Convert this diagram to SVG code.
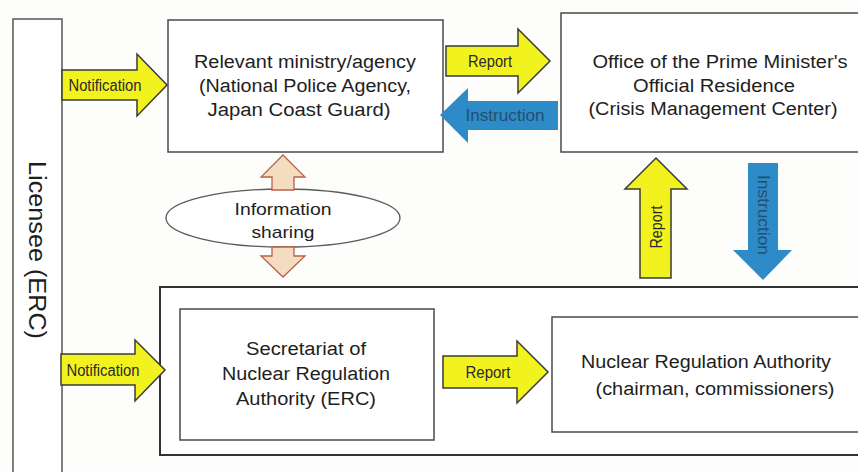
<svg xmlns="http://www.w3.org/2000/svg" width="858" height="472" viewBox="0 0 858 472">
  <defs>
    <style>
      .box { fill: #ffffff; stroke: #4a4a4a; stroke-width: 1.5; }
      .outer { fill: #ffffff; stroke: #333333; stroke-width: 2; }
      .txt { font-family: "Liberation Sans", Arial, sans-serif; font-size: 18px; fill: #1e1e1e; text-anchor: middle; }
      .lbl { font-family: "Liberation Sans", Arial, sans-serif; font-size: 16px; fill: #2a2a2a; text-anchor: middle; }
      .lbl-blue { font-family: "Liberation Sans", Arial, sans-serif; font-size: 16px; fill: #23506e; text-anchor: middle; }
      .yellow { fill: #f2f21e; stroke: #3a3a3a; stroke-width: 1.5; stroke-linejoin: miter; }
      .blue { fill: #2d8bc7; stroke: none; }
      .share { fill: #f3dcc0; stroke: #b9624a; stroke-width: 1.3; }
    </style>
  </defs>

  <rect width="858" height="472" fill="#fdfdfb"/>

  <!-- Licensee column -->
  <g id="licensee">
    <path d="M13,474 V19 H62 V474" fill="#ffffff" stroke="#555555" stroke-width="1.5"/>
    <text class="txt" transform="translate(37,250) rotate(90)" style="font-size:23px" dominant-baseline="central" textLength="178" lengthAdjust="spacingAndGlyphs">Licensee (ERC)</text>
  </g>

  <!-- Relevant ministry / agency -->
  <g id="ministry">
    <rect class="box" x="168" y="20" width="275" height="132"/>
    <text class="txt" x="305" y="68" textLength="222" lengthAdjust="spacingAndGlyphs">Relevant ministry/agency</text>
    <text class="txt" x="305" y="92" textLength="212" lengthAdjust="spacingAndGlyphs">(National Police Agency,</text>
    <text class="txt" x="299" y="116" textLength="183" lengthAdjust="spacingAndGlyphs">Japan Coast Guard)</text>
  </g>

  <!-- Prime Minister's Official Residence -->
  <g id="residence">
    <rect class="box" x="561" y="13" width="310" height="139"/>
    <text class="txt" x="720" y="68" textLength="255" lengthAdjust="spacingAndGlyphs">Office of the Prime Minister's</text>
    <text class="txt" x="714" y="92" textLength="162" lengthAdjust="spacingAndGlyphs">Official Residence</text>
    <text class="txt" x="713" y="115" textLength="249" lengthAdjust="spacingAndGlyphs">(Crisis Management  Center)</text>
  </g>

  <!-- Nuclear Regulation Authority frame -->
  <g id="nra-frame">
    <rect class="outer" x="160" y="287" width="710" height="168"/>
  </g>

  <!-- Secretariat of NRA -->
  <g id="secretariat">
    <rect class="box" x="180" y="309" width="254" height="131"/>
    <text class="txt" x="306" y="355" textLength="120" lengthAdjust="spacingAndGlyphs">Secretariat of</text>
    <text class="txt" x="306" y="380" textLength="168" lengthAdjust="spacingAndGlyphs">Nuclear Regulation</text>
    <text class="txt" x="306" y="405" textLength="140" lengthAdjust="spacingAndGlyphs">Authority (ERC)</text>
  </g>

  <!-- Nuclear Regulation Authority -->
  <g id="nra">
    <rect class="box" x="552" y="317" width="315" height="115"/>
    <text class="txt" x="706" y="368" textLength="250" lengthAdjust="spacingAndGlyphs">Nuclear Regulation Authority</text>
    <text class="txt" x="715" y="395" textLength="239" lengthAdjust="spacingAndGlyphs">(chairman, commissioners)</text>
  </g>

  <!-- Information sharing -->
  <g id="info-sharing">
    <ellipse cx="283" cy="218" rx="117" ry="29" fill="#ffffff" stroke="#5a5a5a" stroke-width="1.3"/>
    <text class="txt" x="283" y="215" style="font-size:17px" textLength="97" lengthAdjust="spacingAndGlyphs">Information</text>
    <text class="txt" x="283" y="238" style="font-size:17px" textLength="63" lengthAdjust="spacingAndGlyphs">sharing</text>
  </g>

  <!-- Connectors -->
  <g id="connectors">
    <!-- information sharing double arrow -->
    <path class="share" d="M283,155 L305,177 H294 V190 H272 V177 H261 Z"/>
    <path class="share" d="M272,247 H294 V256 H305 L283,277 L261,256 H272 Z"/>

    <!-- Notification: licensee to ministry -->
    <path class="yellow" d="M62,70 H137 V54 L167,85 L137,116 V100 H62 Z"/>
    <text class="lbl" x="105" y="91" textLength="73" lengthAdjust="spacingAndGlyphs">Notification</text>

    <!-- Report: ministry to residence -->
    <path class="yellow" d="M446,46 H518 V29 L550,61 L518,93 V76 H446 Z"/>
    <text class="lbl" x="490" y="67" textLength="44" lengthAdjust="spacingAndGlyphs">Report</text>

    <!-- Instruction: residence to ministry -->
    <path class="blue" d="M558,101 H468 V88 L440,115 L468,143 V130 H558 Z"/>
    <text class="lbl-blue" x="505" y="121" textLength="79" lengthAdjust="spacingAndGlyphs">Instruction</text>

    <!-- Notification: licensee to secretariat -->
    <path class="yellow" d="M61,354 H135 V340 L165,370 L135,401 V385 H61 Z"/>
    <text class="lbl" x="103" y="376" textLength="73" lengthAdjust="spacingAndGlyphs">Notification</text>

    <!-- Report: secretariat to NRA -->
    <path class="yellow" d="M443,356 H517 V341 L548,372 L517,403 V388 H443 Z"/>
    <text class="lbl" x="488" y="378" textLength="45" lengthAdjust="spacingAndGlyphs">Report</text>

    <!-- Report: NRA to residence -->
    <path class="yellow" d="M640,278 V189 H625 L656,158 L687,189 H671 V278 Z"/>
    <text class="lbl" transform="translate(656,227) rotate(-90)" dominant-baseline="central" textLength="43" lengthAdjust="spacingAndGlyphs">Report</text>

    <!-- Instruction: residence to NRA -->
    <path class="blue" d="M748,163 H778 V250 H792 L763,280 L733,250 H748 Z"/>
    <text class="lbl-blue" transform="translate(763,215) rotate(90)" dominant-baseline="central" textLength="80" lengthAdjust="spacingAndGlyphs">Instruction</text>
  </g>
</svg>
